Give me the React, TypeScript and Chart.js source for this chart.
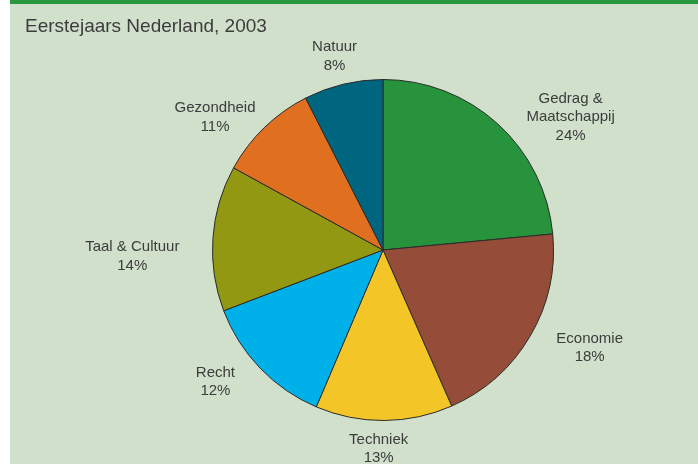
import React, { useEffect, useRef } from "react";
import { Chart, registerables } from "chart.js";

Chart.register(...registerables);

// ---- data ----
const title = "Eerstejaars Nederland, 2003";
const categories = ["Gedrag & Maatschappij", "Economie", "Techniek", "Recht", "Taal & Cultuur", "Gezondheid", "Natuur"];
const categoryLines = [["Gedrag &", "Maatschappij"], ["Economie"], ["Techniek"], ["Recht"], ["Taal & Cultuur"], ["Gezondheid"], ["Natuur"]];
// slice sizes as drawn in the picture (share of the circle, %)
const values = [23.5, 19.9, 13.0, 12.8, 13.8, 9.5, 7.5];
// percentages printed in the labels
const shareLabels = [24, 18, 13, 12, 14, 11, 8];
const sliceColors = ["#27933c", "#954c38", "#f3c526", "#00b0e8", "#939812", "#e07020", "#00657e"];

// label placement: [angle offset from slice middle (deg), distance as factor of radius]
const labelPlacement: [number, number][] = [
  [12.4, 1.348],
  [-5.1, 1.341],
  [1.6, 1.168],
  [5.75, 1.25],
  [-5.45, 1.471],
  [-7.55, 1.256],
  [-0.55, 1.17],
];

const W = 698;
const H = 467;

const labelPlugin = {
  id: "pieLabels",
  afterDatasetsDraw(chart: any) {
    const ctx = chart.ctx;
    const meta = chart.getDatasetMeta(0);
    ctx.save();
    ctx.fillStyle = "#3c3c3c";
    ctx.font = "15px 'Liberation Sans', Arial, sans-serif";
    ctx.textAlign = "center";
    ctx.textBaseline = "middle";
    const lh = 18.5;
    meta.data.forEach((arc: any, i: number) => {
      const p = arc.getProps(["x", "y", "startAngle", "endAngle", "outerRadius"], true);
      const [dDeg, k] = labelPlacement[i];
      const mid = (p.startAngle + p.endAngle) / 2 + (dDeg * Math.PI) / 180;
      const cx = p.x + Math.cos(mid) * p.outerRadius * k;
      const cy = p.y + Math.sin(mid) * p.outerRadius * k;
      const lines = [...categoryLines[i], shareLabels[i] + "%"];
      const y0 = cy - ((lines.length - 1) * lh) / 2;
      lines.forEach((t, j) => ctx.fillText(t, cx, y0 + j * lh));
    });
    // title
    ctx.textAlign = "left";
    ctx.font = "19px 'Liberation Sans', Arial, sans-serif";
    ctx.fillText(title, 25, 27);
    ctx.restore();
  },
};

export default function App() {
  const ref = useRef<HTMLCanvasElement | null>(null);
  useEffect(() => {
    if (!ref.current) return;
    const chart = new Chart(ref.current, {
      type: "pie",
      data: {
        labels: categories,
        datasets: [
          {
            data: values,
            backgroundColor: sliceColors,
            borderColor: "#2a2a2a",
            borderWidth: 1,
          },
        ],
      },
      options: {
        responsive: false,
        animation: false,
        layout: { padding: { left: 212, right: 144, top: 79, bottom: 46 } },
        plugins: {
          legend: { display: false },
          tooltip: { enabled: false },
          title: { display: false },
        },
      },
      plugins: [labelPlugin],
    });
    return () => chart.destroy();
  }, []);

  return (
    <div style={{ position: "fixed", left: 0, top: 0, width: W, height: H, background: "#ffffff", overflow: "hidden" }}>
      <div style={{ position: "absolute", left: 10, top: 0, width: W - 10, height: 464, background: "#d0e0cb" }} />
      <div style={{ position: "absolute", left: 10, top: 0, width: W - 10, height: 4, background: "#2a983e" }} />
      <canvas ref={ref} width={W} height={H} style={{ position: "absolute", left: 0, top: 0, width: W, height: H }} />
    </div>
  );
}
